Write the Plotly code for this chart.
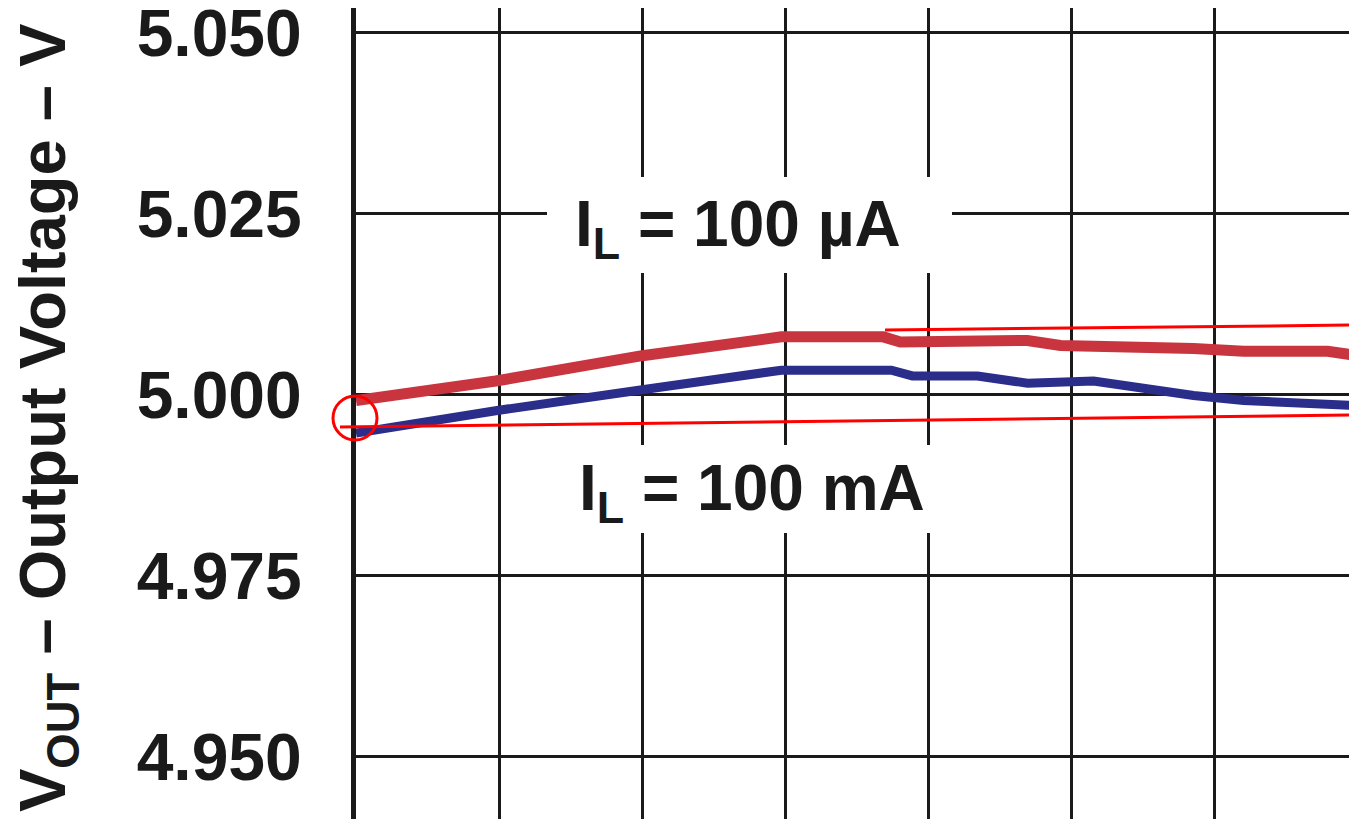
import plotly.graph_objects as go

# Output voltage vs (hidden) x-axis, two load currents
x_red = [0.0, 0.976, 2.0, 2.685, 2.972, 3.685, 3.804, 4.692, 4.923, 5.853, 6.203, 6.790, 7.0]
vout_100uA = [4.9992, 5.0019, 5.0054, 5.0075, 5.0080, 5.0080, 5.0073, 5.0075, 5.0068,
              5.0064, 5.0060, 5.0060, 5.0054]

x_blue = [0.0, 0.976, 2.0, 2.685, 2.972, 3.741, 3.888, 4.343, 4.692, 5.154, 5.392, 5.853,
          6.203, 7.0]
vout_100mA = [4.9947, 4.9978, 5.0007, 5.0026, 5.0034, 5.0034, 5.0026, 5.0026, 5.0016,
              5.0019, 5.0012, 4.9999, 4.9992, 4.9985]

y_ticks = [4.950, 4.975, 5.000, 5.025, 5.050]
y_ticktext = ["4.950", "4.975", "5.000", "5.025", "5.050"]

# page body has an 8px margin, so the figure starts at (8, 8) on screen
OFF = 8
SW, SH = 1357, 819
L = 356
FONT = "Liberation Sans, Arial, Helvetica, sans-serif"


def px(xp):
    return (xp - L) / (SW - L)


def py(yp):
    return (SH - yp) / (SH - OFF)


fig = go.Figure()

fig.add_trace(go.Scatter(
    x=x_red, y=vout_100uA, mode="lines",
    line=dict(color="#c8353f", width=11),
    name="IL = 100 µA"
))
fig.add_trace(go.Scatter(
    x=x_blue, y=vout_100mA, mode="lines",
    line=dict(color="#2b2d8a", width=9),
    name="IL = 100 mA"
))

shapes = [
    # white boxes behind the labels
    dict(type="rect", xref="paper", yref="paper", x0=px(547), x1=px(952), y0=py(273), y1=py(177),
         fillcolor="white", line=dict(width=0), layer="above"),
    dict(type="rect", xref="paper", yref="paper", x0=px(547), x1=px(952), y0=py(533), y1=py(445),
         fillcolor="white", line=dict(width=0), layer="above"),
    # red markup drawn over the chart
    dict(type="circle", xref="paper", yref="paper", x0=px(333), x1=px(377), y0=py(440), y1=py(396),
         line=dict(color="#ff0000", width=3), layer="above"),
    dict(type="line", xref="paper", yref="paper", x0=px(340), x1=px(1357), y0=py(427), y1=py(415),
         line=dict(color="#ff0000", width=3), layer="above"),
    dict(type="line", xref="paper", yref="paper", x0=px(885), x1=px(1357), y0=py(330), y1=py(325),
         line=dict(color="#ff0000", width=3), layer="above"),
    # screenshot frame on the right
    dict(type="line", xref="paper", yref="paper", x0=px(1356.5), x1=px(1356.5), y0=0, y1=1,
         line=dict(color="#cccccc", width=1), layer="above"),
]

annotations = [
    dict(xref="paper", yref="paper", x=px(738), y=py(228), text="I<sub>L</sub> = 100 µA",
         showarrow=False, xanchor="center", yanchor="middle",
         font=dict(family=FONT, size=64, color="#1a1a1a", weight="bold")),
    dict(xref="paper", yref="paper", x=px(752), y=py(492), text="I<sub>L</sub> = 100 mA",
         showarrow=False, xanchor="center", yanchor="middle",
         font=dict(family=FONT, size=64, color="#1a1a1a", weight="bold")),
    dict(xref="paper", yref="paper", x=px(47), y=py(418),
         text="V<sub>OUT</sub> – Output Voltage – V", textangle=-90,
         showarrow=False, xanchor="center", yanchor="middle",
         font=dict(family=FONT, size=65, color="#1a1a1a", weight="bold")),
]

fig.update_layout(
    width=SW - OFF, height=SH - OFF,
    margin=dict(l=L - OFF, r=0, t=0, b=0),
    paper_bgcolor="white", plot_bgcolor="white",
    showlegend=False,
    shapes=shapes,
    annotations=annotations,
    xaxis=dict(range=[0, 6.995], dtick=1, tick0=0, showticklabels=False, ticks="",
               showgrid=True, gridcolor="#1a1a1a", gridwidth=3, zeroline=False,
               showline=False, fixedrange=True, automargin=False),
    yaxis=dict(range=[4.94141, 5.05342], tickvals=y_ticks, ticktext=y_ticktext,
               ticks="", ticklabelstandoff=36, ticklabeloverflow="allow", automargin=False,
               tickfont=dict(family=FONT, size=66, color="#1a1a1a", weight="bold"),
               showgrid=True, gridcolor="#1a1a1a", gridwidth=3, zeroline=False,
               showline=True, linecolor="#1a1a1a", linewidth=5, fixedrange=True),
)

fig.write_html("out.html")
